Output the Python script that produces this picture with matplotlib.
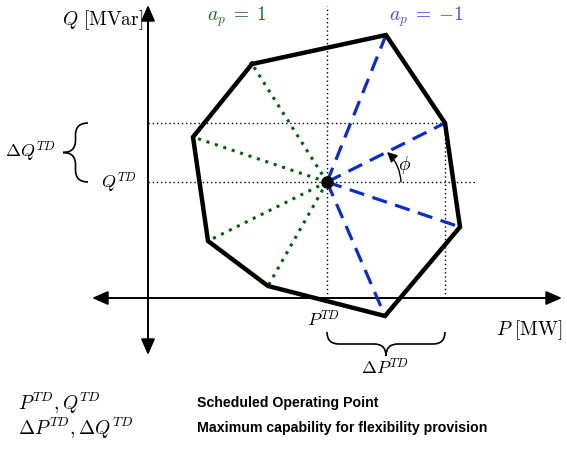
import numpy as np
import matplotlib.pyplot as plt
from matplotlib.patches import FancyArrowPatch, PathPatch
from matplotlib.path import Path

plt.rcParams['mathtext.fontset'] = 'cm'

# capability polygon (P, Q) and the operating point
poly_P = [104, 238, 297, 312, 237, 120, 60, 45]
poly_Q = [234, 263, 175, 71, -18, 12, 57, 161]
P0, Q0 = 179, 116
P_max, Q_max = 297, 175
green_idx = [0, 5, 6, 7]   # a_p = 1
blue_idx = [1, 2, 3, 4]    # a_p = -1

legend_sym = [r'$P^{TD}, Q^{TD}$', r'$\Delta P^{TD}, \Delta Q^{TD}$']
legend_txt = ['Scheduled Operating Point', 'Maximum capability for flexibility provision']


def brace(ax, a, b, pos, depth, vertical=False, lw=1.2):
    """curly brace from a to b (along), at pos, tip at pos - depth"""
    m = (a + b) / 2
    r = min(12, abs(b - a) / 4)
    h = pos - depth / 2
    t = pos - depth
    pts = [(a, pos), (a, h), (a + r, h), (m - r, h), (m, h), (m, t),
           (m, h), (m + r, h), (b - r, h), (b, h), (b, pos)]
    codes = [Path.MOVETO, Path.CURVE3, Path.CURVE3, Path.LINETO,
             Path.CURVE3, Path.CURVE3, Path.CURVE3, Path.CURVE3,
             Path.LINETO, Path.CURVE3, Path.CURVE3]
    if vertical:
        pts = [(y, x) for x, y in pts]
    ax.add_patch(PathPatch(Path(pts, codes), fill=False, lw=lw, color='black'))


fig = plt.figure(figsize=(5.67, 4.49), dpi=100)
ax = fig.add_axes([0, 0, 1, 1])
ax.set_xlim(-148, 419)
ax.set_ylim(-151, 298)
ax.axis('off')

# axes arrows
arr = '<|-|>,head_length=0.8,head_width=0.35'
ax.add_patch(FancyArrowPatch((-56, 0), (414, 0), arrowstyle=arr,
                             mutation_scale=12, lw=1.4, color='black', shrinkA=0, shrinkB=0))
ax.add_patch(FancyArrowPatch((0, -57), (0, 293), arrowstyle=arr,
                             mutation_scale=12, lw=1.4, color='black', shrinkA=0, shrinkB=0))

# dotted helper lines
dot = dict(color='black', lw=1, linestyle=(0, (1, 2)))
ax.plot([P0, P0], [0, 292], **dot)
ax.plot([0, P_max], [Q_max, Q_max], **dot)
ax.plot([0, 327], [Q0, Q0], **dot)
ax.plot([P_max, P_max], [0, Q_max], **dot)

# rays
for i in green_idx:
    ax.plot([P0, poly_P[i]], [Q0, poly_Q[i]], color='#006400', lw=2.2, linestyle=(0, (1, 1.9)))
for i in blue_idx:
    ax.plot([P0, poly_P[i]], [Q0, poly_Q[i]], color='#0a2ccc', lw=2.3, linestyle=(0, (4.8, 2.7)))

# polygon
ax.plot(poly_P + poly_P[:1], poly_Q + poly_Q[:1], color='black', lw=3.2, solid_joinstyle='miter')
ax.plot([P0], [Q0], 'o', color='black', markersize=8)

# angle phi
ax.add_patch(FancyArrowPatch((P0 + 74, Q0), (P0 + 60, Q0 + 30), connectionstyle='arc3,rad=0.2',
                             arrowstyle='-|>,head_length=0.5,head_width=0.25', mutation_scale=12,
                             lw=1, color='black', shrinkA=0, shrinkB=0))
ax.text(257, 133, r'$\phi$', fontsize=14, ha='center', va='center')

# braces
brace(ax, Q0, Q_max, -60, 25, vertical=True)
brace(ax, P0, P_max, -34, 24)

# labels
fs = 14
ax.text(-5, 278, r'$Q\ [\mathrm{MVar}]$', fontsize=fs, ha='right', va='center')
ax.text(381, -32, r'$P\ [\mathrm{MW}]$', fontsize=fs, ha='center', va='center')
ax.text(89, 281, r'$a_p\;=\;1$', fontsize=fs, ha='center', va='center', color='#1b6e1b')
ax.text(279, 281, r'$a_p\;=\;{-1}$', fontsize=fs, ha='center', va='center', color='#4b4be6')
ax.text(-118, 146, r'$\Delta Q^{TD}$', fontsize=13, ha='center', va='center')
ax.text(-29, 115, r'$Q^{TD}$', fontsize=13, ha='center', va='center')
ax.text(176, -22, r'$P^{TD}$', fontsize=13, ha='center', va='center')
ax.text(237, -70, r'$\Delta P^{TD}$', fontsize=13, ha='center', va='center')

for k, (s, t) in enumerate(zip(legend_sym, legend_txt)):
    y = -105 - 25 * k
    ax.text(-130, y, s, fontsize=14, ha='left', va='center')
    ax.text(49, y, t, fontsize=10.2, ha='left', va='center', fontweight='bold', family='Liberation Sans')

fig.savefig('out.png', dpi=100)
